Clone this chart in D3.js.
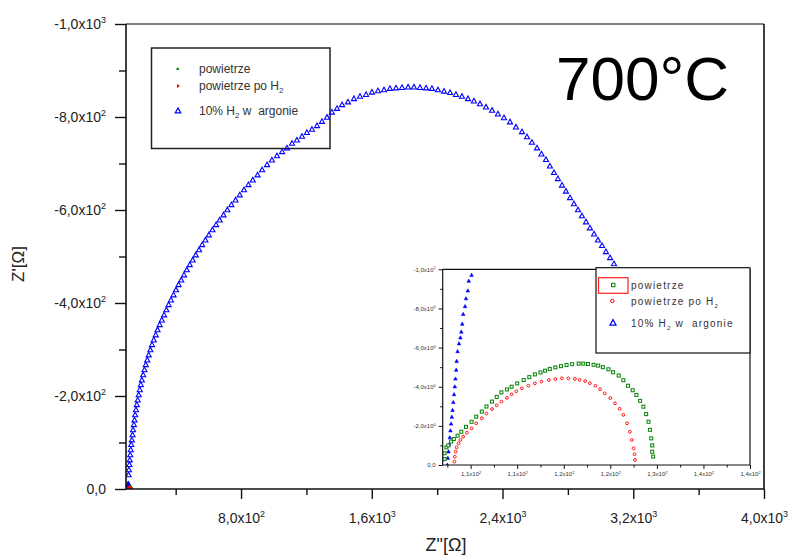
<!DOCTYPE html>
<html><head><meta charset="utf-8">
<script src="https://cdn.jsdelivr.net/npm/d3@7"></script>
<style>body{margin:0;background:#fff}svg{display:block}text{font-family:Arial,"Liberation Sans",sans-serif;white-space:pre}</style>
</head><body><svg id="c" width="793" height="557"></svg>
<script>
// ---------- data (ohm) ----------
const seriesNames = ["powietrze", "powietrze po H|2", "10% H|2 w  argonie"];
const seriesColors = ["#008000", "#ff0000", "#0000ff"];

// powietrze (air): Z'' (real) and Z' (imag)
const airRe = [107.2,107.2,107.4,107.6,107.9,108.2,108.6,109.0,109.5,110.1,110.6,111.2,111.7,112.3,112.8,113.3,113.9,114.4,115.0,115.7,116.3,116.9,117.5,118.0,118.5,119.1,119.7,120.3,120.9,121.6,122.1,122.6,123.2,123.7,124.2,124.8,125.3,125.9,126.4,126.9,127.4,127.8,128.2,128.55,128.85,129.1,129.25,129.4,129.5,129.5,129.6];
const airIm = [-0.3,-0.6,-0.9,-1.0,-1.2,-1.33,-1.5,-1.7,-1.95,-2.21,-2.47,-2.73,-2.99,-3.24,-3.48,-3.71,-3.86,-4.0,-4.17,-4.34,-4.49,-4.63,-4.73,-4.82,-4.91,-4.99,-5.05,-5.11,-5.15,-5.18,-5.18,-5.16,-5.12,-5.08,-5.0,-4.89,-4.74,-4.57,-4.33,-4.05,-3.82,-3.58,-3.28,-2.98,-2.6,-2.21,-1.8,-1.36,-1.0,-0.68,-0.43];

// powietrze po H2
const airH2Re = [108.25,108.3,108.4,108.5,108.7,108.9,109.2,109.6,110.1,110.6,111.2,111.7,112.3,112.8,113.3,113.9,114.4,114.9,115.5,116.2,116.9,117.6,118.4,119.1,119.8,120.5,121.2,121.7,122.3,122.8,123.4,123.9,124.4,125.0,125.5,126.0,126.4,126.8,127.1,127.3,127.5,127.6,127.65];
const airH2Im = [-0.17,-0.42,-0.68,-0.9,-1.11,-1.28,-1.45,-1.65,-1.87,-2.13,-2.39,-2.63,-2.86,-3.05,-3.24,-3.43,-3.61,-3.77,-3.92,-4.05,-4.17,-4.26,-4.34,-4.39,-4.43,-4.43,-4.40,-4.35,-4.29,-4.18,-4.05,-3.87,-3.66,-3.42,-3.15,-2.87,-2.56,-2.13,-1.70,-1.28,-0.85,-0.55,-0.26];

// 10% H2 w argonie
const argRe = [107.5,107.55,107.62,107.7,107.76,107.83,107.9,107.98,108.06,108.14,108.22,108.3,108.37,108.45,108.5,108.6,108.75,108.9,109.0,109.1,109.2,109.4,109.5,109.7,109.8,110.1,
  112,114,117,119,122,125,128,132,136,139,144,148,152,157,162,168,174,180,187,193,
  201,209,217,226,235,245,255,266,278,289,302,315,329,343,357,371,387,402,418,434,
  451,468,486,504,523,543,562,582,603,625,647,669,693,716,741,766,792,818,845,872,
  901,929,959,989,1020,1051,1081,1112,1142,1173,1203,1234,1265,1295,1326,1356,1387,1418,1454,1491,
  1528,1565,1601,1638,1675,1711,1748,1785,1822,1858,1895,1932,1968,2005,2042,2079,2115,2152,2189,2225,
  2262,2299,2336,2372,2409,2446,2482,2519,2550,2580,2611,2638,2666,2690,2715,2739,2764,2788,2813,2837,
  2862,2886,2911,2935,2960,2984,3009,3033,3058,3082,3107,3131];
const argIm = [0,-0.35,-0.68,-1.05,-1.4,-1.75,-2.1,-2.45,-2.8,-3.2,-3.6,-4.0,-4.4,-4.85,-5.3,-5.8,-6.2,-6.5,-6.8,-7.2,-7.7,-8.1,-8.5,-8.9,-9.4,-9.7,
  -30,-41,-52,-62,-73,-84,-95,-105,-116,-127,-138,-148,-159,-170,-181,-191,-202,-213,-224,-234,
  -245,-256,-267,-277,-288,-299,-310,-320,-331,-342,-353,-363,-374,-385,-396,-406,-417,-428,-439,-449,
  -460,-471,-482,-492,-503,-514,-525,-535,-546,-557,-568,-578,-589,-600,-611,-621,-632,-643,-654,-664,
  -675,-686,-697,-707,-716,-725,-733,-743,-750,-758,-766,-773,-781,-790,-799,-810,-818,-826,-832,-839,
  -844,-848,-853,-856,-858,-861,-862,-863,-864,-864,-863,-862,-861,-858,-855,-852,-848,-844,-839,-834,
  -828,-821,-814,-806,-798,-789,-778,-768,-757,-745,-733,-720,-708,-694,-680,-667,-653,-640,-626,-613,
  -600,-587,-574,-561,-548,-535,-523,-510,-497,-484,-471,-458];

// axis ticks and labels
const mainXMajor = [800, 1600, 2400, 3200, 4000];
const mainXLabels = ["8,0x10^2", "1,6x10^3", "2,4x10^3", "3,2x10^3", "4,0x10^3"];
const mainXMinor = [400, 1200, 2000, 2800, 3600];
const mainYMajor = [-1000, -800, -600, -400, -200, 0];
const mainYLabels = ["-1,0x10^3", "-8,0x10^2", "-6,0x10^2", "-4,0x10^2", "-2,0x10^2", "0,0"];
const mainYMinor = [-900, -700, -500, -300, -100];

const insetXMajor = [110, 115, 120, 125, 130, 135, 140];
const insetXLabels = ["1,1x10^2", "1,1x10^2", "1,2x10^2", "1,2x10^2", "1,3x10^2", "1,4x10^2", "1,4x10^2"];
const insetXMinor = [107.5, 112.5, 117.5, 122.5, 127.5, 132.5, 137.5];
const insetYMajor = [-10, -8, -6, -4, -2, 0];
const insetYLabels = ["-1,0x10^1", "-8,0x10^0", "-6,0x10^0", "-4,0x10^0", "-2,0x10^0", "0,0"];
const insetYMinor = [-9, -7, -5, -3, -1];

const titleText = "700\u00B0C";
const xTitle = "Z\"[\u03A9]";
const yTitle = "Z'[\u03A9]";

// ---------- drawing ----------
const svg = d3.select("#c");
const zip = (a, b) => a.map((v, i) => [v, b[i]]);
const airPts = zip(airRe, airIm), airH2Pts = zip(airH2Re, airH2Im), argPts = zip(argRe, argIm);

function sciText(sel, str, fs, supFs, supDy) {
  const parts = str.split("^");
  sel.text(null);
  sel.append("tspan").text(parts[0]);
  if (parts[1] !== undefined) {
    sel.append("tspan").attr("font-size", supFs).attr("dy", supDy).text(parts[1]);
  }
}
function subText(sel, str, supFs, dy) {
  const parts = str.split("|");
  sel.append("tspan").text(parts[0]);
  if (parts[1] !== undefined) {
    const rest = parts[1];
    sel.append("tspan").attr("font-size", supFs).attr("dy", dy).text(rest[0]);
    sel.append("tspan").attr("dy", -dy).text(rest.slice(1));
  }
}
const triPath = s => `M0,${-s*0.62}L${s*0.55},${s*0.38}L${-s*0.55},${s*0.38}Z`;

// main scales
const M = {l: 126, r: 764, t: 24, b: 489};
const x = d3.scaleLinear().domain([96, 4000]).range([M.l, M.r]);
const y = d3.scaleLinear().domain([0, -1000]).range([M.b, M.t]);

svg.append("defs").append("clipPath").attr("id", "mclip")
  .append("rect").attr("x", M.l).attr("y", M.t).attr("width", M.r - M.l).attr("height", M.b - M.t);

// main legend (under the data)
const lg = svg.append("g");
lg.append("rect").attr("x", 151.5).attr("y", 48).attr("width", 178.5).attr("height", 100.5).attr("fill", "#fff").attr("stroke", "#222").attr("stroke-width", 1.5);
const lgY = [69, 86, 111];
seriesNames.forEach((n, i) => {
  if (i === 0) lg.append("circle").attr("cx", 177.7).attr("cy", lgY[i]).attr("r", 1.3).attr("fill", seriesColors[0]);
  if (i === 1) lg.append("path").attr("d", `M177,${lgY[i]-2}L180,${lgY[i]}L177,${lgY[i]+2}Z`).attr("fill", seriesColors[1]);
  if (i === 2) lg.append("path").attr("transform", `translate(178,${lgY[i]})`).attr("d", triPath(5)).attr("fill", "none").attr("stroke", seriesColors[2]).attr("stroke-width", 1.2);
  const t = lg.append("text").attr("x", 199).attr("y", lgY[i] + 4).attr("font-size", 12).attr("fill", "#333");
  subText(t, n, 8, 3);
});

const data = svg.append("g").attr("clip-path", "url(#mclip)");
// blue open triangles
data.selectAll("path.arg").data(argPts).join("path").attr("class", "arg")
  .attr("transform", d => `translate(${x(d[0])},${y(d[1])})`)
  .attr("d", triPath(4.6)).attr("fill", "none").attr("stroke", seriesColors[2]).attr("stroke-width", 1.1);
data.selectAll("circle.air").data(airPts).join("circle").attr("class", "air")
  .attr("cx", d => x(d[0])).attr("cy", d => y(d[1])).attr("r", 1).attr("fill", seriesColors[0]);
data.selectAll("circle.airh2").data(airH2Pts).join("circle").attr("class", "airh2")
  .attr("cx", d => x(d[0])).attr("cy", d => y(d[1])).attr("r", 1).attr("fill", seriesColors[1]);

// main frame
svg.append("line").attr("x1", M.l).attr("x2", M.r).attr("y1", M.t).attr("y2", M.t).attr("stroke", "#555").attr("stroke-width", 1.6);
svg.append("line").attr("x1", M.r).attr("x2", M.r).attr("y1", M.t).attr("y2", M.b).attr("stroke", "#111").attr("stroke-width", 1.6);
svg.append("line").attr("x1", M.l).attr("x2", M.l).attr("y1", M.t).attr("y2", M.b).attr("stroke", "#111").attr("stroke-width", 1.6);
svg.append("line").attr("x1", M.l).attr("x2", M.r).attr("y1", M.b).attr("y2", M.b).attr("stroke", "#111").attr("stroke-width", 1.6);

// main axes via d3
const xAx = svg.append("g").attr("transform", `translate(0,${M.b})`)
  .call(d3.axisBottom(x).tickValues(mainXMajor).tickSize(10).tickSizeOuter(0).tickPadding(14));
xAx.select(".domain").remove();
xAx.selectAll("line").attr("stroke", "#111").attr("stroke-width", 1.4);
xAx.selectAll("text").attr("font-size", 14).attr("fill", "#222").each(function(d, i) { sciText(d3.select(this), mainXLabels[i], 14, 9, -6); });
svg.append("g").attr("transform", `translate(0,${M.b})`)
  .call(d3.axisBottom(x).tickValues(mainXMinor).tickSize(6).tickFormat(""))
  .call(g => { g.select(".domain").remove(); g.selectAll("line").attr("stroke", "#111").attr("stroke-width", 1.4); });

const yAx = svg.append("g").attr("transform", `translate(${M.l},0)`)
  .call(d3.axisLeft(y).tickValues(mainYMajor).tickSize(11).tickSizeOuter(0).tickPadding(9));
yAx.select(".domain").remove();
yAx.selectAll("line").attr("stroke", "#111").attr("stroke-width", 1.4);
yAx.selectAll("text").attr("font-size", 14).attr("fill", "#222").each(function(d, i) { sciText(d3.select(this), mainYLabels[i], 14, 9, -6); });
svg.append("g").attr("transform", `translate(${M.l},0)`)
  .call(d3.axisLeft(y).tickValues(mainYMinor).tickSize(7).tickFormat(""))
  .call(g => { g.select(".domain").remove(); g.selectAll("line").attr("stroke", "#111").attr("stroke-width", 1.4); });

// axis titles
svg.append("text").attr("x", 446).attr("y", 551).attr("text-anchor", "middle").attr("font-size", 18).attr("fill", "#222").text(xTitle);
svg.append("text").attr("transform", "translate(24,264) rotate(-90)").attr("text-anchor", "middle").attr("font-size", 17).attr("fill", "#222").text(yTitle);

// temperature
svg.append("text").attr("x", 556).attr("y", 100).attr("font-size", 62).attr("fill", "#000").text(titleText);

// ---------- inset ----------
const I = {l: 442.7, r: 750, t: 269.3, b: 465};
const ix = d3.scaleLinear().domain([107, 140]).range([I.l, I.r]);
const iy = d3.scaleLinear().domain([0, -10]).range([I.b, I.t]);
const ins = svg.append("g");
ins.append("rect").attr("x", 397).attr("y", 266.5).attr("width", 365).attr("height", 220).attr("fill", "#fff");
svg.select("defs").append("clipPath").attr("id", "iclip")
  .append("rect").attr("x", I.l).attr("y", I.t).attr("width", I.r - I.l).attr("height", I.b - I.t);
const idata = ins.append("g").attr("clip-path", "url(#iclip)");
idata.selectAll("path.arg").data(argPts).join("path").attr("class", "arg")
  .attr("transform", d => `translate(${ix(d[0])},${iy(d[1])})`)
  .attr("d", triPath(3.2)).attr("fill", seriesColors[2]).attr("stroke", seriesColors[2]).attr("stroke-width", 0.6);
idata.selectAll("rect.air").data(airPts).join("rect").attr("class", "air")
  .attr("x", d => ix(d[0]) - 1.5).attr("y", d => iy(d[1]) - 1.5).attr("width", 3).attr("height", 3)
  .attr("fill", "#fff").attr("stroke", seriesColors[0]).attr("stroke-width", 1);
idata.selectAll("circle.airh2").data(airH2Pts).join("circle").attr("class", "airh2")
  .attr("cx", d => ix(d[0])).attr("cy", d => iy(d[1])).attr("r", 1.4)
  .attr("fill", "#fff").attr("stroke", seriesColors[1]).attr("stroke-width", 0.9);

// inset frame
[[I.l, I.t, I.r, I.t], [I.l, I.t, I.l, I.b], [I.l, I.b, I.r, I.b], [I.r, I.t, I.r, I.b]].forEach(c =>
  ins.append("line").attr("x1", c[0]).attr("y1", c[1]).attr("x2", c[2]).attr("y2", c[3]).attr("stroke", "#111").attr("stroke-width", 1.2));

const ixAx = ins.append("g").attr("transform", `translate(0,${I.b})`)
  .call(d3.axisBottom(ix).tickValues(insetXMajor).tickSize(4).tickSizeOuter(0).tickPadding(3));
ixAx.select(".domain").remove();
ixAx.selectAll("line").attr("stroke", "#111");
ixAx.selectAll("text").attr("font-size", 6).attr("fill", "#333").each(function(d, i) { sciText(d3.select(this), insetXLabels[i], 6, 4, -2.5); });
ins.append("g").attr("transform", `translate(0,${I.b})`)
  .call(d3.axisBottom(ix).tickValues(insetXMinor).tickSize(2.5).tickFormat(""))
  .call(g => { g.select(".domain").remove(); g.selectAll("line").attr("stroke", "#111"); });
const iyAx = ins.append("g").attr("transform", `translate(${I.l},0)`)
  .call(d3.axisLeft(iy).tickValues(insetYMajor).tickSize(4).tickSizeOuter(0).tickPadding(3));
iyAx.select(".domain").remove();
iyAx.selectAll("line").attr("stroke", "#111");
iyAx.selectAll("text").attr("font-size", 6).attr("fill", "#333").each(function(d, i) { sciText(d3.select(this), insetYLabels[i], 6, 4, -2.5); });
ins.append("g").attr("transform", `translate(${I.l},0)`)
  .call(d3.axisLeft(iy).tickValues(insetYMinor).tickSize(2.5).tickFormat(""))
  .call(g => { g.select(".domain").remove(); g.selectAll("line").attr("stroke", "#111"); });

// inset legend
const il = ins.append("g");
il.append("rect").attr("x", 596).attr("y", 267.7).attr("width", 154).attr("height", 85.3).attr("fill", "#fff").attr("stroke", "#111").attr("stroke-width", 1.2);
il.append("rect").attr("x", 598.5).attr("y", 277.7).attr("width", 29.5).attr("height", 15.6).attr("fill", "none").attr("stroke", "#ff2020").attr("stroke-width", 1.2);
const ilY = [285, 301, 323];
il.append("rect").attr("x", 611.5).attr("y", ilY[0] - 1.7).attr("width", 3.4).attr("height", 3.4).attr("fill", "#fff").attr("stroke", seriesColors[0]).attr("stroke-width", 1);
il.append("circle").attr("cx", 612.3).attr("cy", ilY[1]).attr("r", 1.7).attr("fill", "#fff").attr("stroke", seriesColors[1]).attr("stroke-width", 1);
il.append("path").attr("transform", `translate(613,${ilY[2]})`).attr("d", triPath(5.5)).attr("fill", "none").attr("stroke", seriesColors[2]).attr("stroke-width", 1.2);
seriesNames.forEach((n, i) => {
  const t = il.append("text").attr("x", 631).attr("y", ilY[i] + 3.5).attr("font-size", 10).attr("letter-spacing", 1.2).attr("fill", "#333");
  subText(t, n, 6, 3);
});
</script></body></html>
